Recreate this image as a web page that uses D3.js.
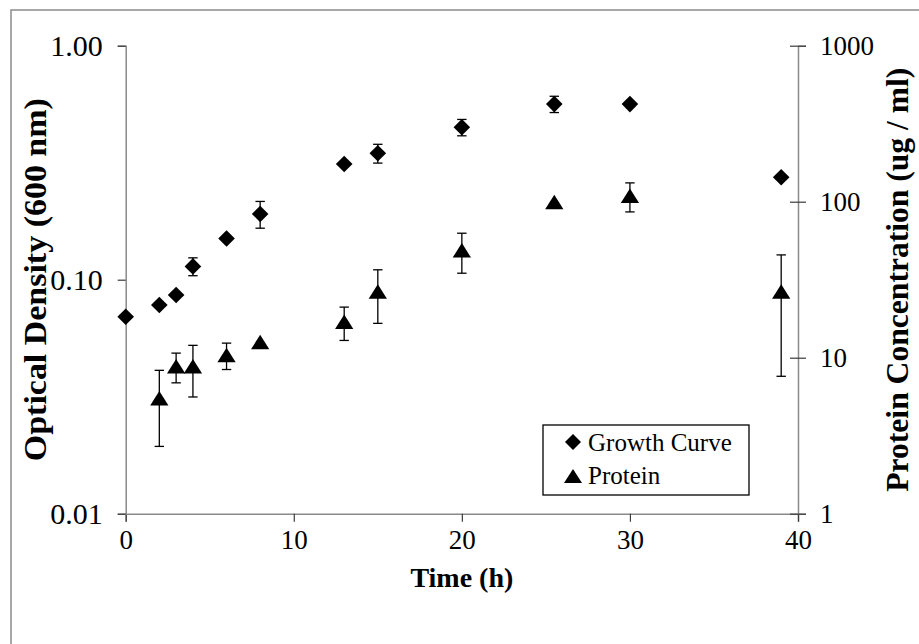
<!DOCTYPE html>
<html>
<head>
<meta charset="utf-8">
<script src="https://cdn.jsdelivr.net/npm/d3@7/dist/d3.min.js"></script>
<style>
  html, body { margin: 0; padding: 0; background: #fff; }
  svg { display: block; }
</style>
</head>
<body>
<svg id="chart" width="919" height="644"></svg>
<script>
// Sampling times (h)
const odTimes = [0, 2, 3, 4, 6, 8, 13, 15, 20, 25.5, 30, 39];
// Optical density at 600 nm (growth curve) and its error
const odValues = [0.0695, 0.078, 0.086, 0.114, 0.150, 0.191, 0.312, 0.347, 0.448, 0.563, 0.563, 0.274];
const odErrors = [0, 0, 0, 0.010, 0, 0.025, 0, 0.032, 0.036, 0.045, 0, 0];

// Protein concentration (ug/ml) and its error
const proteinTimes = [2, 3, 4, 6, 8, 13, 15, 20, 25.5, 30, 39];
const proteinValues = [5.5, 8.8, 8.8, 10.4, 12.6, 17.0, 26.6, 48.8, 99.5, 109, 26.6];
const proteinErrors = [2.8, 1.9, 3.2, 2.0, 0, 4.1, 10, 14, 0, 23, 19];

// Axis ticks
const xTicks = [0, 10, 20, 30, 40];
const odTicks = [0.01, 0.1, 1];
const odTickLabels = ["0.01", "0.10", "1.00"];
const proteinTicks = [1, 10, 100, 1000];
const proteinTickLabels = ["1", "10", "100", "1000"];

const serif = "'Liberation Serif', 'Times New Roman', Times, serif";

const svg = d3.select("#chart");

// Outer frame
svg.append("rect")
  .attr("x", 11).attr("y", 10)
  .attr("width", 940).attr("height", 660)
  .attr("fill", "none").attr("stroke", "#8c8c8c").attr("stroke-width", 1.5);

const plot = { left: 125.7, right: 798, top: 45.7, bottom: 513.7 };

const x = d3.scaleLinear().domain([0, 40]).range([plot.left, plot.right]);
const yOD = d3.scaleLog().domain([0.01, 1]).range([plot.bottom, plot.top]);
const yProt = d3.scaleLog().domain([1, 1000]).range([plot.bottom, plot.top]);

const axisColor = "#8a8a8a";
const tickColor = "#3a3a3a";

// Left axis (optical density)
const leftAxis = svg.append("g")
  .attr("transform", `translate(${plot.left},0)`)
  .call(d3.axisLeft(yOD).tickValues(odTicks)
    .tickFormat((d, i) => odTickLabels[i]).tickSizeOuter(0).tickSize(8).tickPadding(15));
leftAxis.attr("font-size", 30);

// Right axis (protein), ticks cross the axis line
const rightAxis = svg.append("g")
  .attr("transform", `translate(${plot.right},0)`)
  .call(d3.axisRight(yProt).tickValues(proteinTicks)
    .tickFormat((d, i) => proteinTickLabels[i]).tickSizeOuter(0).tickSize(8).tickPadding(14));
rightAxis.selectAll(".tick line").attr("x1", -8);
rightAxis.attr("font-size", 27);

// Bottom axis (time)
const bottomAxis = svg.append("g")
  .attr("transform", `translate(0,${plot.bottom})`)
  .call(d3.axisBottom(x).tickValues(xTicks)
    .tickFormat(d3.format("d")).tickSizeOuter(0).tickSize(8).tickPadding(8));
bottomAxis.attr("font-size", 27);

[leftAxis, rightAxis, bottomAxis].forEach(g => {
  g.attr("font-family", serif);
  g.select(".domain").attr("stroke", axisColor).attr("stroke-width", 1.5);
  g.selectAll(".tick line").attr("stroke", tickColor).attr("stroke-width", 1.2);
  g.selectAll(".tick text").attr("fill", "#000");
});
// The bottom tick of the left axis continues the time axis line
bottomAxis.lower();

// Axis titles
svg.append("text")
  .attr("transform", `translate(46,${(plot.top + plot.bottom) / 2}) rotate(-90)`)
  .attr("text-anchor", "middle")
  .attr("font-family", serif)
  .attr("font-size", 31).attr("font-weight", "bold")
  .attr("textLength", 363).attr("lengthAdjust", "spacingAndGlyphs")
  .text("Optical Density (600 nm)");

svg.append("text")
  .attr("transform", `translate(908,${(plot.top + plot.bottom) / 2}) rotate(-90)`)
  .attr("text-anchor", "middle")
  .attr("font-family", serif)
  .attr("font-size", 31).attr("font-weight", "bold")
  .attr("textLength", 424).attr("lengthAdjust", "spacingAndGlyphs")
  .text("Protein Concentration (ug / ml)");

svg.append("text")
  .attr("x", (plot.left + plot.right) / 2)
  .attr("y", 587)
  .attr("text-anchor", "middle")
  .attr("font-family", serif)
  .attr("font-size", 28).attr("font-weight", "bold")
  .text("Time (h)");

// Marker shapes
const diamondPath = (cx, cy, r) => `M${cx},${cy - r}L${cx + r},${cy}L${cx},${cy + r}L${cx - r},${cy}Z`;
const trianglePath = (cx, cy, w, h) =>
  `M${cx},${cy - h / 2}L${cx + w / 2},${cy + h / 2}L${cx - w / 2},${cy + h / 2}Z`;

function errorBars(g, times, vals, errs, yScale) {
  times.forEach((t, i) => {
    const e = errs[i];
    if (!e) return;
    const cx = x(t);
    const y1 = yScale(vals[i] + e);
    const y2 = yScale(Math.max(vals[i] - e, 1e-6));
    g.append("line").attr("x1", cx).attr("x2", cx).attr("y1", y1).attr("y2", y2);
    g.append("line").attr("x1", cx - 4.7).attr("x2", cx + 4.7).attr("y1", y1).attr("y2", y1);
    g.append("line").attr("x1", cx - 4.7).attr("x2", cx + 4.7).attr("y1", y2).attr("y2", y2);
  });
}

const errG = svg.append("g").attr("stroke", "#000").attr("stroke-width", 1.3);
errorBars(errG, odTimes, odValues, odErrors, yOD);
errorBars(errG, proteinTimes, proteinValues, proteinErrors, yProt);

// Growth curve markers
svg.append("g").selectAll("path")
  .data(odTimes.map((t, i) => [t, odValues[i]]))
  .join("path")
  .attr("d", d => diamondPath(x(d[0]), yOD(d[1]), 8.3))
  .attr("fill", "#000");

// Protein markers
svg.append("g").selectAll("path")
  .data(proteinTimes.map((t, i) => [t, proteinValues[i]]))
  .join("path")
  .attr("d", d => trianglePath(x(d[0]), yProt(d[1]), 18.3, 14.5))
  .attr("fill", "#000");

// Legend
const legend = svg.append("g").attr("font-family", serif).attr("font-size", 25);
legend.append("rect")
  .attr("x", 543).attr("y", 425).attr("width", 206).attr("height", 70)
  .attr("fill", "#fff").attr("stroke", "#000").attr("stroke-width", 1.3);
legend.append("path").attr("d", diamondPath(573, 442, 8)).attr("fill", "#000");
legend.append("path").attr("d", trianglePath(573, 476, 18, 14)).attr("fill", "#000");
legend.append("text").attr("x", 588).attr("y", 451).text("Growth Curve");
legend.append("text").attr("x", 588).attr("y", 484).text("Protein");
</script>
</body>
</html>
